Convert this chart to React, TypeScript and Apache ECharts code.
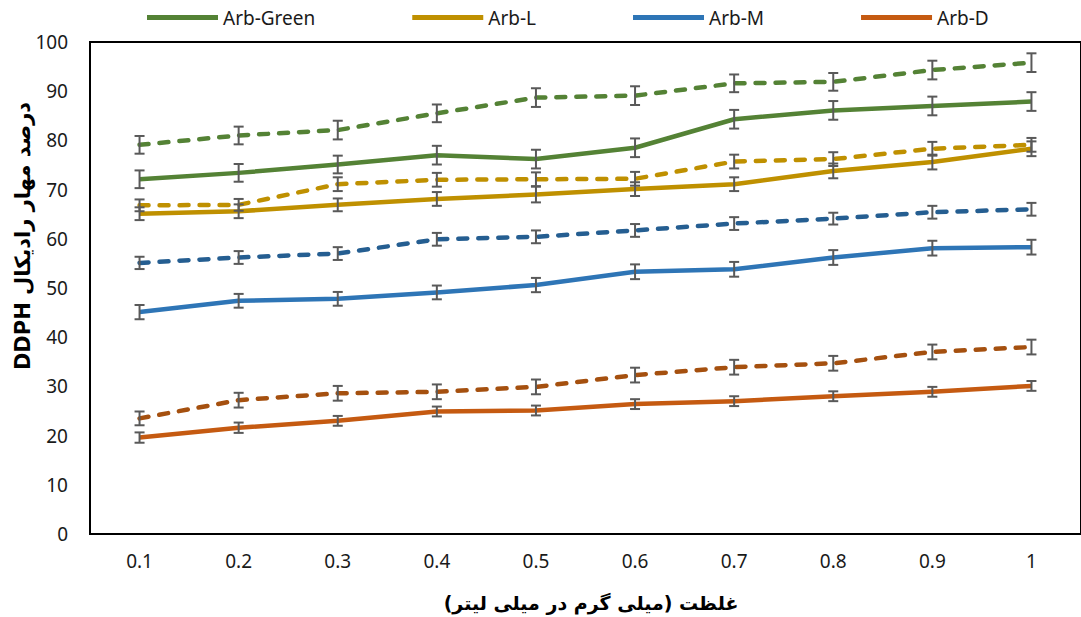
import React, { useEffect, useRef } from "react";
import * as echarts from "echarts";

const categories = ["0.1", "0.2", "0.3", "0.4", "0.5", "0.6", "0.7", "0.8", "0.9", "1"];

const greenSolid = [72.1, 73.4, 75.1, 77.0, 76.2, 78.5, 84.3, 86.1, 87.0, 87.9];
const greenDashed = [79.1, 81.0, 82.1, 85.5, 88.7, 89.1, 91.6, 91.9, 94.3, 95.8];
const yellowSolid = [65.1, 65.6, 66.9, 68.1, 69.0, 70.1, 71.1, 73.8, 75.6, 78.3];
const yellowDashed = [66.8, 66.9, 71.1, 72.0, 72.1, 72.2, 75.7, 76.2, 78.3, 79.1];
const blueSolid = [45.1, 47.4, 47.8, 49.1, 50.6, 53.3, 53.8, 56.2, 58.1, 58.3];
const blueDashed = [55.1, 56.2, 57.0, 59.9, 60.4, 61.7, 63.1, 64.1, 65.4, 66.0];
const orangeSolid = [19.6, 21.6, 23.0, 24.9, 25.1, 26.4, 27.0, 28.0, 28.9, 30.1];
const orangeDashed = [23.5, 27.2, 28.6, 28.9, 29.9, 32.3, 33.9, 34.7, 37.0, 38.0];

const greenSolidErr = [1.8, 1.8, 1.8, 1.9, 1.9, 1.9, 1.9, 1.9, 1.9, 1.9];
const greenDashedErr = [1.8, 1.8, 1.9, 1.8, 1.9, 1.9, 1.8, 1.8, 1.9, 1.9];
const yellowSolidErr = [1.3, 1.4, 1.3, 1.4, 1.6, 1.4, 1.4, 1.5, 1.5, 1.5];
const yellowDashedErr = [1.2, 1.2, 1.4, 1.4, 1.4, 1.4, 1.4, 1.4, 1.4, 1.4];
const blueSolidErr = [1.45, 1.4, 1.4, 1.4, 1.45, 1.5, 1.5, 1.5, 1.5, 1.5];
const blueDashedErr = [1.25, 1.3, 1.3, 1.3, 1.3, 1.3, 1.3, 1.2, 1.3, 1.3];
const orangeSolidErr = [1.05, 1.05, 1.0, 1.0, 1.0, 1.0, 1.0, 1.0, 1.0, 1.0];
const orangeDashedErr = [1.4, 1.5, 1.5, 1.5, 1.5, 1.5, 1.5, 1.5, 1.5, 1.5];

const legendNames = ["Arb-Green", "Arb-L", "Arb-M", "Arb-D"];
const yTicks = { min: 0, max: 100, interval: 10 };
const yTitle = "درصد مهار رادیکال DDPH";
const xTitle = "غلظت (میلی گرم در میلی لیتر)";

const FONT = "'Noto Sans', 'Open Sans', sans-serif";

type Line = { name: string; data: number[]; err: number[]; color: string; dashed: boolean };

const lines: Line[] = [
  { name: "Arb-Green", data: greenSolid, err: greenSolidErr, color: "#548235", dashed: false },
  { name: "Arb-Green (dashed)", data: greenDashed, err: greenDashedErr, color: "#548235", dashed: true },
  { name: "Arb-L", data: yellowSolid, err: yellowSolidErr, color: "#BF9000", dashed: false },
  { name: "Arb-L (dashed)", data: yellowDashed, err: yellowDashedErr, color: "#BF9000", dashed: true },
  { name: "Arb-M", data: blueSolid, err: blueSolidErr, color: "#2E75B6", dashed: false },
  { name: "Arb-M (dashed)", data: blueDashed, err: blueDashedErr, color: "#255E91", dashed: true },
  { name: "Arb-D", data: orangeSolid, err: orangeSolidErr, color: "#C55A11", dashed: false },
  { name: "Arb-D (dashed)", data: orangeDashed, err: orangeDashedErr, color: "#A5500F", dashed: true },
];

export default function App() {
  const ref = useRef<HTMLDivElement>(null);

  useEffect(() => {
    document.body.style.margin = "0";
    if (!ref.current) return;
    const chart = echarts.init(ref.current, undefined, { renderer: "svg" });

    const lineSeries = lines.map((l) => ({
      name: l.name,
      type: "line",
      data: l.data,
      showSymbol: false,
      symbol: "none",
      z: 2,
      lineStyle: {
        color: l.color,
        width: 4.5,
        type: l.dashed ? [9, 11] : "solid",
        cap: l.dashed ? "round" : "butt",
        join: "round",
      },
      itemStyle: { color: l.color },
    }));

    const errSeries = lines.map((l) => ({
      name: l.name + " err",
      type: "custom",
      z: 5,
      silent: true,
      data: l.data.map((v, i) => [i, v, l.err[i]]),
      encode: { x: 0, y: 1 },
      renderItem: (params: any, api: any) => {
        const x = api.value(0);
        const v = api.value(1);
        const e = api.value(2);
        const top = api.coord([x, v + e]);
        const bot = api.coord([x, v - e]);
        const hw = 5;
        const style = { stroke: "#595959", lineWidth: 2 };
        return {
          type: "group",
          children: [
            { type: "line", shape: { x1: top[0], y1: top[1], x2: bot[0], y2: bot[1] }, style },
            { type: "line", shape: { x1: top[0] - hw, y1: top[1], x2: top[0] + hw, y2: top[1] }, style },
            { type: "line", shape: { x1: bot[0] - hw, y1: bot[1], x2: bot[0] + hw, y2: bot[1] }, style },
          ],
        };
      },
    }));

    chart.setOption({
      animation: false,
      backgroundColor: "#ffffff",
      textStyle: { fontFamily: FONT },
      legend: {
        data: legendNames,
        left: 147,
        top: 8,
        padding: 0,
        itemWidth: 71,
        itemHeight: 5,
        itemGap: 97,
        icon: "rect",
        textStyle: { fontFamily: FONT, fontSize: 19, color: "#1a1a1a" },
        selectedMode: false,
      },
      grid: {
        left: 90,
        top: 42,
        width: 996,
        height: 492,
        show: true,
        borderColor: "#000",
        borderWidth: 2,
        containLabel: false,
      },
      xAxis: {
        type: "category",
        data: categories,
        boundaryGap: true,
        axisLine: { show: true, lineStyle: { color: "#000", width: 2 } },
        axisTick: { show: false },
        axisLabel: { fontFamily: FONT, fontSize: 19, color: "#1a1a1a", margin: 17 },
        splitLine: { show: false },
      },
      yAxis: {
        type: "value",
        min: yTicks.min,
        max: yTicks.max,
        interval: yTicks.interval,
        axisLine: { show: true, lineStyle: { color: "#000", width: 2 } },
        axisTick: { show: false },
        axisLabel: { fontFamily: FONT, fontSize: 19, color: "#1a1a1a", margin: 22 },
        splitLine: { show: false },
      },
      graphic: [
        {
          type: "text",
          x: 23,
          y: 236,
          rotation: Math.PI / 2,
          style: {
            text: "\u202B" + yTitle + "\u202C",
            fontFamily: "'DejaVu Sans', sans-serif",
            fontWeight: "bold",
            fontSize: 21,
            fill: "#000",
            align: "center",
            verticalAlign: "middle",
          },
        },
        {
          type: "text",
          x: 591,
          y: 603,
          style: {
            text: xTitle,
            fontFamily: "'DejaVu Sans', sans-serif",
            fontWeight: "bold",
            fontSize: 19,
            fill: "#000",
            align: "center",
            verticalAlign: "middle",
          },
        },
      ],
      series: [...lineSeries, ...errSeries],
    });

    return () => chart.dispose();
  }, []);

  return <div ref={ref} style={{ width: 1081, height: 617 }} />;
}
